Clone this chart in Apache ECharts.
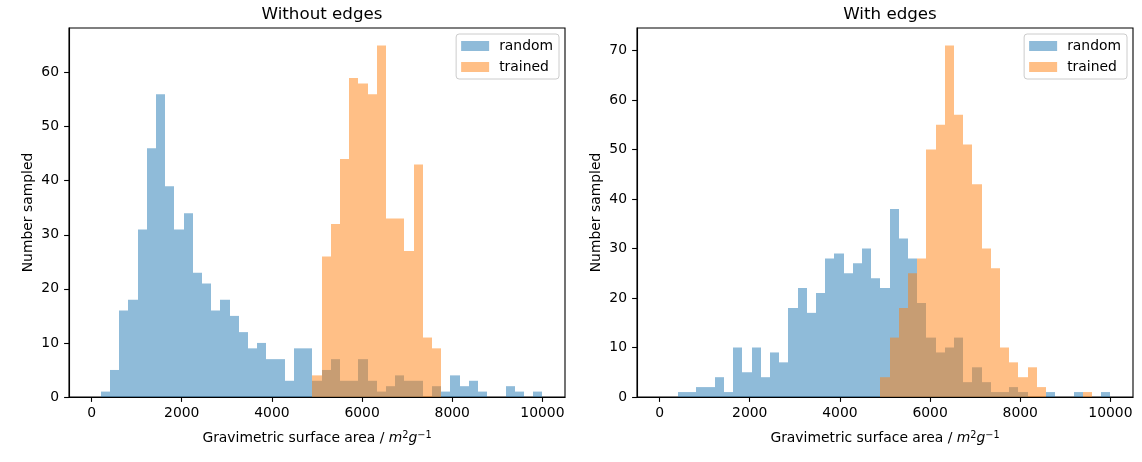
<!DOCTYPE html>
<html>
<head>
<meta charset="utf-8">
<script src="https://cdn.jsdelivr.net/npm/echarts@6/dist/echarts.min.js"></script>
<style>
  html, body { margin: 0; padding: 0; background: #fff; }
  #main { width: 1142px; height: 462px; }
</style>
</head>
<body>
<div id="main"></div>
<script>
// histogram bins: 49 equal bins between 0 and 10000
const binLow = 0
const binHigh = 10000
const binCount = 49

const xTicks = [0, 2000, 4000, 6000, 8000, 10000]
const yTicksLeft = [0, 10, 20, 30, 40, 50, 60]
const yTicksRight = [0, 10, 20, 30, 40, 50, 60, 70]

// counts per bin
const noEdgesRandom = [0, 1, 5, 16, 18, 31, 46, 56, 39, 31, 34, 23, 21, 16, 18, 15, 12, 9, 10, 7,
  7, 3, 9, 9, 3, 5, 7, 3, 3, 7, 3, 1, 2, 4, 3, 3, 0, 2, 1, 4, 2, 3, 1, 0, 0, 2, 1, 0, 1]
const noEdgesTrained = [0, 0, 0, 0, 0, 0, 0, 0, 0, 0, 0, 0, 0, 0, 0, 0, 0, 0, 0, 0,
  0, 0, 0, 0, 4, 26, 32, 44, 59, 58, 56, 65, 33, 33, 27, 43, 11, 9, 0, 0, 0, 0, 0, 0, 0, 0, 0, 0, 0]
const edgesRandom = [0, 0, 1, 1, 2, 2, 4, 1, 10, 5, 10, 4, 9, 7, 18, 22, 17, 21, 28, 29,
  25, 27, 30, 24, 22, 38, 32, 28, 19, 12, 9, 10, 12, 3, 6, 3, 1, 1, 2, 1, 0, 0, 1, 0, 0, 1, 0, 0, 1]
const edgesTrained = [0, 0, 0, 0, 0, 0, 0, 0, 0, 0, 0, 0, 0, 0, 0, 0, 0, 0, 0, 0,
  0, 0, 0, 0, 4, 12, 18, 25, 28, 50, 55, 71, 57, 51, 43, 30, 26, 10, 7, 4, 6, 2, 0, 0, 0, 0, 1, 0, 0]

const binWidth = (binHigh - binLow) / binCount

function toBins(counts) {
  return counts.map((c, i) => [binLow + i * binWidth, binLow + (i + 1) * binWidth, c])
}

function renderBar(params, api) {
  if (api.value(2) <= 0) return
  const top = api.coord([api.value(0), api.value(2)])
  const bottom = api.coord([api.value(1), 0])
  // snap to whole pixels so neighbouring bins meet without a seam
  const x0 = Math.round(top[0])
  const x1 = Math.round(bottom[0])
  return {
    type: 'rect',
    shape: { x: x0, y: top[1], width: x1 - x0, height: bottom[1] - top[1] },
    style: api.style()
  }
}

const font = 'DejaVu Sans'
const blue = '#1f77b4'
const orange = '#ff7f0e'

function makeX(idx) {
  return {
    type: 'value', gridIndex: idx, min: -500, max: 10500,
    name: 'Gravimetric surface area / {i|m}{s|2}{i|g}{s|−1}',
    nameLocation: 'middle', nameGap: 33,
    nameTextStyle: {
      fontFamily: font, fontSize: 13.9, color: '#000',
      rich: {
        i: { fontFamily: font, fontSize: 13.9, fontStyle: 'italic', color: '#000' },
        s: { fontFamily: font, fontSize: 9.7, color: '#000', padding: [0, 0, 7, 0] }
      }
    },
    axisLine: { onZero: false, lineStyle: { color: '#000', width: 1.1 } },
    axisTick: { customValues: xTicks, length: 4.9, lineStyle: { color: '#000', width: 1.1 } },
    axisLabel: { customValues: xTicks, margin: 9, fontFamily: font, fontSize: 13.9, color: '#000', formatter: v => String(v) },
    splitLine: { show: false }
  }
}

function makeY(idx, max, ticks) {
  return {
    type: 'value', gridIndex: idx, min: 0, max: max,
    name: 'Number sampled', nameLocation: 'middle', nameGap: 34,
    nameTextStyle: { fontFamily: font, fontSize: 13.9, color: '#000' },
    axisLine: { show: true, onZero: false, lineStyle: { color: '#000', width: 1.1 } },
    axisTick: { show: true, customValues: ticks, length: 4.9, lineStyle: { color: '#000', width: 1.1 } },
    axisLabel: { customValues: ticks, margin: 10, fontFamily: font, fontSize: 13.9, color: '#000' },
    splitLine: { show: false }
  }
}

function makeSeries(name, counts, idx, color) {
  return {
    type: 'custom', name: name, xAxisIndex: idx, yAxisIndex: idx,
    renderItem: renderBar,
    itemStyle: { color: color, opacity: 0.5 },
    encode: { x: [0, 1], y: 2 },
    data: toBins(counts),
    silent: true
  }
}

function makeLegend(right) {
  return {
    orient: 'vertical', right: right, top: 34,
    data: ['random', 'trained'],
    icon: 'rect', itemWidth: 28, itemHeight: 10, itemGap: 7,
    padding: [5, 6, 5, 5],
    borderColor: '#ccc', borderWidth: 1, borderRadius: 3,
    backgroundColor: 'rgba(255,255,255,0.8)',
    selectedMode: false,
    textStyle: { fontFamily: font, fontSize: 13.9, color: '#000', lineHeight: 14, padding: [0, 0, 0, 5] }
  }
}

const chart = echarts.init(document.getElementById('main'))
chart.setOption({
  animation: false,
  backgroundColor: '#fff',
  title: [
    { text: 'Without edges', left: 317, top: 1, textAlign: 'center',
      textStyle: { fontFamily: font, fontSize: 16.7, fontWeight: 'normal', color: '#000' } },
    { text: 'With edges', left: 885, top: 1, textAlign: 'center',
      textStyle: { fontFamily: font, fontSize: 16.7, fontWeight: 'normal', color: '#000' } }
  ],
  grid: [
    { left: 69, right: 577, top: 28, bottom: 65, show: true, borderColor: '#000', borderWidth: 1.1, containLabel: false },
    { left: 637, right: 9, top: 28, bottom: 65, show: true, borderColor: '#000', borderWidth: 1.1, containLabel: false }
  ],
  xAxis: [makeX(0), makeX(1)],
  yAxis: [makeY(0, 68.25, yTicksLeft), makeY(1, 74.55, yTicksRight)],
  legend: [makeLegend(583), makeLegend(15)],
  series: [
    makeSeries('random', noEdgesRandom, 0, blue),
    makeSeries('trained', noEdgesTrained, 0, orange),
    makeSeries('random', edgesRandom, 1, blue),
    makeSeries('trained', edgesTrained, 1, orange)
  ]
})
</script>
</body>
</html>
